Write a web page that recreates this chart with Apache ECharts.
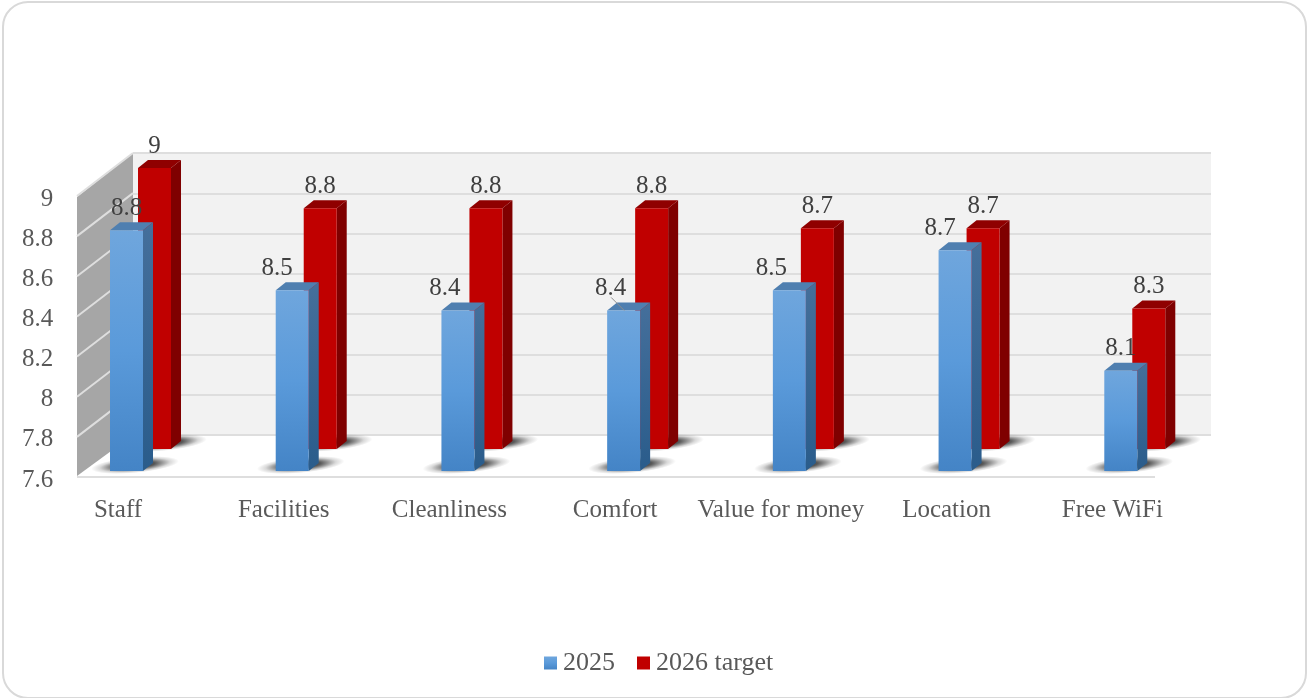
<!DOCTYPE html>
<html>
<head>
<meta charset="utf-8">
<title>2025 vs 2026 target</title>
<script src="https://cdn.jsdelivr.net/npm/echarts@6/dist/echarts.min.js"></script>
<style>
  html, body { margin: 0; padding: 0; background: #fff; }
  #chart { width: 1307px; height: 698px; }
  .card { position: absolute; left: 2px; top: 1px; width: 1301px; height: 694px; border: 2px solid #d9d9d9; border-radius: 26px; pointer-events: none; }
</style>
</head>
<body>
<div id="chart"></div>
<div class="card"></div>
<script>
const categories = ['Staff', 'Facilities', 'Cleanliness', 'Comfort', 'Value for money', 'Location', 'Free WiFi']
const values2025 = [8.8, 8.5, 8.4, 8.4, 8.5, 8.7, 8.1]
const values2026 = [9, 8.8, 8.8, 8.8, 8.7, 8.7, 8.3]
const yTicks = [7.6, 7.8, 8, 8.2, 8.4, 8.6, 8.8, 9]
const seriesNames = ['2025', '2026 target']

// nudges for the blue labels, the original moved some off the bar
const labelNudge2025 = [0, -15, -13, -13, -18, -15, 0]
const leader2025 = [0, 0, 0, 1, 0, 0, 0]

const FONT = '"Liberation Serif", serif'
const BAR_W = 33
const DEPTH_X = 10
const DEPTH_Y = 8

const blueFront = { type: 'linear', x: 0, y: 0, x2: 0, y2: 1, colorStops: [
  { offset: 0, color: '#6fa6dd' }, { offset: 0.5, color: '#5a9ada' }, { offset: 1, color: '#4484c6' },
] }
const blueSide = { type: 'linear', x: 0, y: 0, x2: 0, y2: 1, colorStops: [
  { offset: 0, color: '#456f9b' }, { offset: 1, color: '#2a5c8b' },
] }
const shadowFill = { type: 'radial', x: 0.5, y: 0.5, r: 0.5, colorStops: [
  { offset: 0, color: 'rgba(0,0,0,0.9)' }, { offset: 0.45, color: 'rgba(0,0,0,0.65)' }, { offset: 0.8, color: 'rgba(0,0,0,0.15)' }, { offset: 1, color: 'rgba(0,0,0,0)' },
] }

// one 3d bar, dx/dy move it from the category centre to its place on the floor
const barRenderer = (opt) => (params, api) => {
  const i = api.value(0)
  const top = api.coord([i, api.value(1)])
  const base = api.coord([i, 7.6])
  const l = top[0] + opt.dx - BAR_W / 2
  const r = l + BAR_W
  const t = top[1] + opt.dy
  const b = base[1] + opt.dy
  const children = [
    // floor shadow, a unit circle squashed into a tilted ellipse
    { type: 'circle', shape: { cx: 0, cy: 0, r: 1 }, x: l + 25, y: b - 6, scaleX: 44, scaleY: 8, rotation: 0.09, style: { fill: shadowFill } },
    { type: 'polygon', shape: { points: [[r, t], [r + DEPTH_X, t - DEPTH_Y], [r + DEPTH_X, b - DEPTH_Y], [r, b]] }, style: { fill: opt.side } },
    { type: 'polygon', shape: { points: [[l, t], [l + DEPTH_X, t - DEPTH_Y], [r + DEPTH_X, t - DEPTH_Y], [r, t]] }, style: { fill: opt.cap } },
    { type: 'rect', shape: { x: l, y: t, width: BAR_W, height: b - t }, style: { fill: opt.front } },
    {
      type: 'text',
      style: {
        text: String(api.value(1)),
        x: l + BAR_W / 2 + (opt.nudge ? opt.nudge[i] : 0),
        y: t - 22,
        align: 'center',
        verticalAlign: 'middle',
        font: '25px ' + FONT,
        fill: '#404040',
      },
    },
  ]
  if (opt.leader && opt.leader[i]) {
    children.push({ type: 'line', shape: { x1: l + 4, y1: t - 13, x2: l + 17, y2: t }, style: { stroke: '#8c8c8c', lineWidth: 1 } })
  }
  return { type: 'group', children }
}

// side wall and the front floor edge, one slanted line per tick
const wallRenderer = (params, api) => {
  const y = api.coord([0, api.value(0)])[1]
  const xFront = 77
  const xBack = 133
  const children = []
  if (params.dataIndex === 0) {
    const y0 = api.coord([0, yTicks[0]])[1]
    const y1 = api.coord([0, yTicks[yTicks.length - 1]])[1]
    children.push({ type: 'polygon', shape: { points: [[xFront, y1 - 2], [xBack, y1 - 46], [xBack, y0 - 45], [xFront, y0 - 4]] }, style: { fill: '#a6a6a6' } })
    children.push({ type: 'line', shape: { x1: xFront, y1: y0 - 3, x2: 1155, y2: y0 - 3 }, style: { stroke: '#dedede', lineWidth: 2 } })
  } else {
    children.push({ type: 'line', shape: { x1: xFront, y1: y - 3, x2: xBack, y2: y - 46 }, style: { stroke: '#dedede', lineWidth: 2 } })
  }
  return { type: 'group', children }
}

const chart = echarts.init(document.getElementById('chart'), null, { renderer: 'canvas' })

chart.setOption({
  animation: false,
  backgroundColor: '#fff',
  textStyle: { fontFamily: FONT },
  grid: [
    { left: 35.15, top: 199, width: 1160, height: 281 },
    { left: 133, top: 153, width: 1078, height: 282, show: true, backgroundColor: '#f2f2f2', borderWidth: 0 },
  ],
  xAxis: [
    {
      type: 'category',
      gridIndex: 0,
      data: categories,
      axisLine: { show: false },
      axisTick: { show: false },
      axisLabel: { color: '#595959', fontFamily: FONT, fontSize: 25, margin: 18, interval: 0 },
    },
    { type: 'value', gridIndex: 1, show: false },
  ],
  yAxis: [
    {
      type: 'value',
      gridIndex: 0,
      min: 7.6,
      max: 9,
      interval: 0.2,
      axisLine: { show: false },
      axisTick: { show: false },
      splitLine: { show: false },
      axisLabel: { color: '#595959', fontFamily: FONT, fontSize: 25, margin: -18, padding: [4, 0, 0, 0] },
    },
    {
      type: 'value',
      gridIndex: 1,
      min: 7.6,
      max: 9,
      interval: 0.2,
      axisLine: { show: false },
      axisTick: { show: false },
      axisLabel: { show: false },
      splitLine: { show: true, lineStyle: { color: '#dedede', width: 2 } },
    },
  ],
  legend: {
    left: 539,
    top: 645,
    itemWidth: 13,
    itemHeight: 13,
    itemGap: 22,
    icon: 'rect',
    data: seriesNames,
    textStyle: { color: '#595959', fontFamily: FONT, fontSize: 26, padding: [0, 0, 0, 1] },
  },
  series: [
    {
      type: 'custom',
      silent: true,
      z: 1,
      clip: false,
      xAxisIndex: 0,
      yAxisIndex: 0,
      data: yTicks.map((t) => [t]),
      encode: { y: 0 },
      renderItem: wallRenderer,
    },
    {
      name: seriesNames[1],
      type: 'custom',
      z: 2,
      xAxisIndex: 0,
      yAxisIndex: 0,
      itemStyle: { color: '#c00000' },
      encode: { x: 0, y: 1 },
      data: categories.map((c, i) => [i, values2026[i]]),
      renderItem: barRenderer({ dx: 36.5, dy: -31, front: '#c00000', side: '#7f0000', cap: '#8f0000' }),
    },
    {
      name: seriesNames[0],
      type: 'custom',
      z: 3,
      xAxisIndex: 0,
      yAxisIndex: 0,
      itemStyle: { color: blueFront },
      encode: { x: 0, y: 1 },
      data: categories.map((c, i) => [i, values2025[i]]),
      renderItem: barRenderer({ dx: 8.5, dy: -9, front: blueFront, side: blueSide, cap: '#4f7fb0', nudge: labelNudge2025, leader: leader2025 }),
    },
  ],
})
</script>
</body>
</html>
